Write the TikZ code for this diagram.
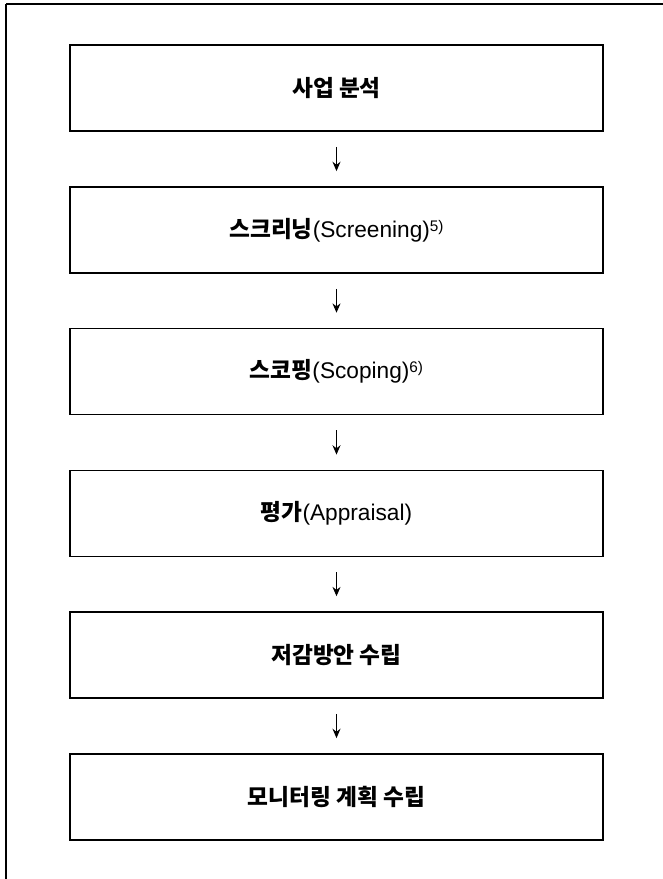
\documentclass[tikz,border=0pt]{standalone}
\usepackage{fontspec}
\setmainfont{Liberation Sans}
\newfontfamily\kr{Noto Sans CJK KR}
\usetikzlibrary{arrows.meta,calc}
\tikzset{
  stepbox/.style={draw=black, line width=0.8pt, minimum width=533*0.75pt, minimum height=86*0.75pt, inner sep=0pt, font=\fontsize{17pt}{20pt}\selectfont},
  flowarrow/.style={-{Stealth[length=7pt,width=6pt]}, line width=0.8pt},
}
\newcommand{\ko}[1]{{\kr\bfseries #1}}
\newcommand{\fnm}[1]{\raisebox{0.5ex}{\fontsize{11.5pt}{12pt}\selectfont #1}}
\begin{document}
\begin{tikzpicture}[x=0.75pt,y=-0.75pt]
\useasboundingbox (0,0) rectangle (663,879);
\begin{scope}
\clip (0,0) rectangle (663,879);
\draw[line width=1.6pt] (6,4) -- (6,900) (6,4) -- (700,4);
\end{scope}
\node[stepbox] (b1) at (336.5,88) {\ko{사업 분석}};
\node[stepbox] (b2) at (336.5,230) {\ko{스크리닝}(Screening)\fnm{5)}};
\node[stepbox] (b3) at (336.5,371.5) {\ko{스코핑}(Scoping)\fnm{6)}};
\node[stepbox] (b4) at (336.5,513.5) {\ko{평가}(Appraisal)};
\node[stepbox] (b5) at (336.5,655) {\ko{저감방안 수립}};
\node[stepbox] (b6) at (336.5,797) {\ko{모니터링 계획 수립}};
\foreach \a/\b in {b1/b2,b2/b3,b3/b4,b4/b5,b5/b6}{
  \draw[flowarrow] ($(\a.south)!0.28!(\b.north)$) -- ($(\a.south)!0.72!(\b.north)$);
}
\end{tikzpicture}
\end{document}
